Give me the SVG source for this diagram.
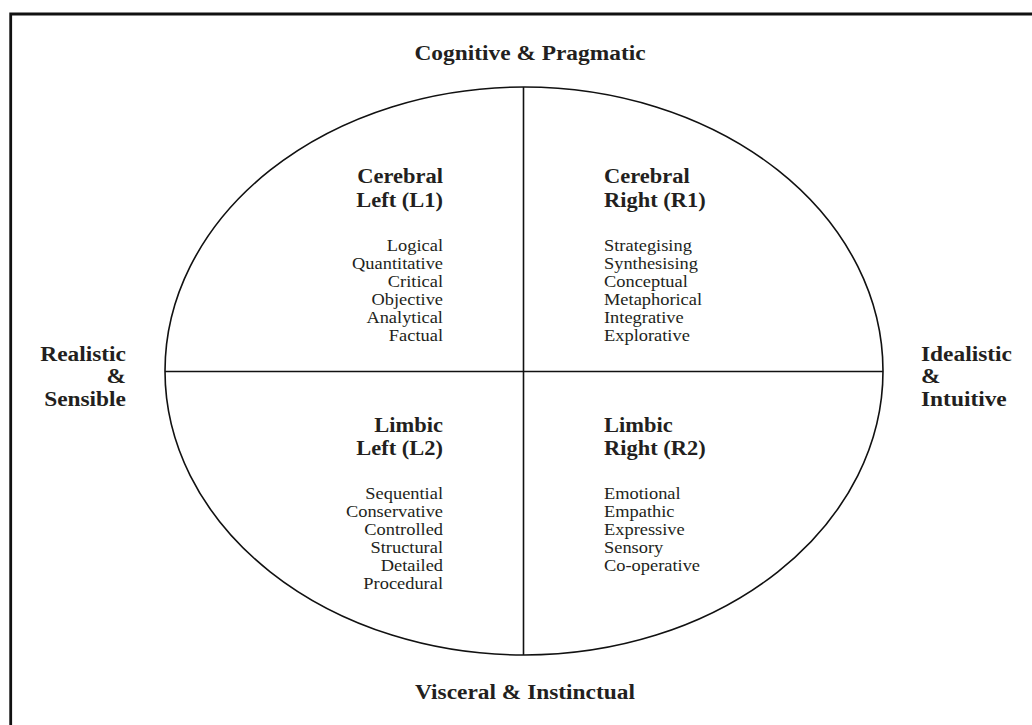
<svg xmlns="http://www.w3.org/2000/svg" width="1032" height="725" viewBox="0 0 1032 725">
<style>
.t{font-family:"Liberation Serif","Times New Roman",serif;fill:#231f20}
.b{font-weight:bold;font-size:21px}
.lb{font-weight:bold;font-size:20px}
.s{font-size:16px}
.ln{fill:none;stroke:#111;stroke-width:1.6}
.e{text-anchor:end}
.m{text-anchor:middle}
</style>
<rect width="1032" height="725" fill="#fff"/>
<path d="M10.7,725 V14 H1032" fill="none" stroke="#111" stroke-width="2.8"/>
<g id="connectors">
<ellipse class="ln" cx="524" cy="371" rx="359" ry="284"/>
<line class="ln" x1="523.5" y1="87" x2="523.5" y2="655"/>
<line class="ln" x1="165" y1="371.5" x2="883" y2="371.5"/>
</g>
<g id="top-label" transform="translate(530,0) scale(1.17,1)"><text class="t lb m" x="0" y="60">Cognitive &amp; Pragmatic</text></g>
<g id="bottom-label" transform="translate(525,0) scale(1.17,1)"><text class="t lb m" x="0" y="699">Visceral &amp; Instinctual</text></g>
<g id="left-label" class="t lb e" transform="translate(126,0) scale(1.17,1)">
<text x="0" y="361">Realistic</text>
<text x="0" y="383">&amp;</text>
<text x="0" y="406">Sensible</text>
</g>
<g id="right-label" class="t lb" transform="translate(921,0) scale(1.17,1)">
<text x="0" y="361">Idealistic</text>
<text x="0" y="383">&amp;</text>
<text x="0" y="406">Intuitive</text>
</g>
<g id="L1" class="t e" transform="translate(443,0)">
<g transform="scale(1.07,1)">
<text class="b" x="0" y="183">Cerebral</text>
<text class="b" x="0" y="207">Left (L1)</text>
</g>
<g class="s" transform="scale(1.15,1)">
<text x="0" y="251">Logical</text>
<text x="0" y="269">Quantitative</text>
<text x="0" y="287">Critical</text>
<text x="0" y="305">Objective</text>
<text x="0" y="323">Analytical</text>
<text x="0" y="341">Factual</text>
</g>
</g>
<g id="R1" class="t" transform="translate(604,0)">
<g transform="scale(1.07,1)">
<text class="b" x="0" y="183">Cerebral</text>
<text class="b" x="0" y="207">Right (R1)</text>
</g>
<g class="s" transform="scale(1.15,1)">
<text x="0" y="251">Strategising</text>
<text x="0" y="269">Synthesising</text>
<text x="0" y="287">Conceptual</text>
<text x="0" y="305">Metaphorical</text>
<text x="0" y="323">Integrative</text>
<text x="0" y="341">Explorative</text>
</g>
</g>
<g id="L2" class="t e" transform="translate(443,0)">
<g transform="scale(1.07,1)">
<text class="b" x="0" y="432">Limbic</text>
<text class="b" x="0" y="455">Left (L2)</text>
</g>
<g class="s" transform="scale(1.15,1)">
<text x="0" y="499.5">Sequential</text>
<text x="0" y="517.5">Conservative</text>
<text x="0" y="535.5">Controlled</text>
<text x="0" y="553.5">Structural</text>
<text x="0" y="571.5">Detailed</text>
<text x="0" y="589.5">Procedural</text>
</g>
</g>
<g id="R2" class="t" transform="translate(604,0)">
<g transform="scale(1.07,1)">
<text class="b" x="0" y="432">Limbic</text>
<text class="b" x="0" y="455">Right (R2)</text>
</g>
<g class="s" transform="scale(1.15,1)">
<text x="0" y="499.5">Emotional</text>
<text x="0" y="517.5">Empathic</text>
<text x="0" y="535.5">Expressive</text>
<text x="0" y="553.5">Sensory</text>
<text x="0" y="571.5">Co-operative</text>
</g>
</g>
</svg>
